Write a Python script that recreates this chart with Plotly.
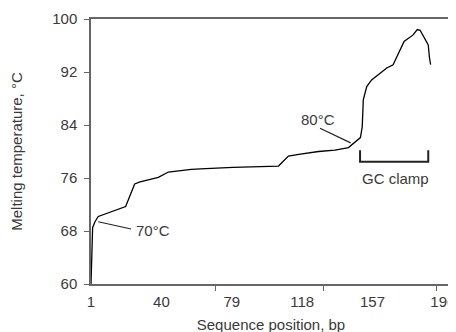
import plotly.graph_objects as go

# Melting temperature profile
position = [1, 1.7, 1.9, 3.2, 5.03, 20.2, 25.2, 28.2, 38.3, 43.9, 56.5, 64.5, 79.7, 104.9,
            110.4, 117, 127.1, 136.2, 143.7, 150.3, 151.3, 151.9, 153.8, 156.5, 164.9,
            168.4, 174.5, 179.5, 181.8, 183.4, 186.1, 187.9, 188.5, 189.2]
melting_temp = [60, 67.4, 68.5, 69.4, 70.2, 71.7, 75.1, 75.4, 76.1, 76.9, 77.3, 77.4, 77.6,
                77.8, 79.3, 79.6, 80.0, 80.2, 80.6, 82.1, 83.7, 87.8, 89.8, 90.8, 92.6,
                93.1, 96.6, 97.6, 98.4, 98.3, 97.1, 96.1, 94.3, 93.1]

x_tick_labels = [1, 40, 79, 118, 157, 196]
x_tick_marks = [70.1, 129.7, 192.6]
y_ticks = [60, 68, 76, 84, 92, 100]

# GC clamp bracket
bracket_x = [150.1, 150.1, 187.9, 187.9]
bracket_y = [80.2, 78.46, 78.46, 80.2]

# callouts
callout_70_x = [5.03, 23.2]
callout_70_y = [69.4, 68.3]
callout_80_x = [127.9, 144.9]
callout_80_y = [83.5, 81.3]

font_family = "Liberation Sans, Arial, sans-serif"
text_color = "#3a3a3a"
axis_color = "#666666"
FS = 15

fig = go.Figure()
fig.add_trace(go.Scatter(x=position, y=melting_temp, mode="lines",
                         line=dict(color="black", width=1.3), showlegend=False, hoverinfo="skip"))
fig.add_trace(go.Scatter(x=bracket_x, y=bracket_y, mode="lines",
                         line=dict(color="#222222", width=2), showlegend=False, hoverinfo="skip"))
fig.add_trace(go.Scatter(x=callout_70_x, y=callout_70_y, mode="lines",
                         line=dict(color="#222222", width=1.2), showlegend=False, hoverinfo="skip"))
fig.add_trace(go.Scatter(x=callout_80_x, y=callout_80_y, mode="lines",
                         line=dict(color="#222222", width=1.2), showlegend=False, hoverinfo="skip"))

fig.add_annotation(x=35.1, y=68.15, text="70°C", showarrow=False,
                   font=dict(size=FS, color=text_color, family=font_family))
fig.add_annotation(x=126.8, y=84.9, text="80°C", showarrow=False,
                   font=dict(size=FS, color=text_color, family=font_family))
fig.add_annotation(x=170.0, y=75.9, text="GC clamp", showarrow=False,
                   font=dict(size=FS, color=text_color, family=font_family))

fig.update_layout(
    width=456, height=332,
    margin=dict(l=83, r=13, t=11, b=56),
    paper_bgcolor="white", plot_bgcolor="white",
    font=dict(family=font_family, size=FS, color=text_color),
    xaxis=dict(
        range=[1, 200.5], automargin=False,
        tickmode="array", tickvals=x_tick_labels, ticktext=[str(v) for v in x_tick_labels],
        ticks="outside", ticklen=3, tickcolor="rgba(0,0,0,0)",
        minor=dict(tickmode="array", tickvals=x_tick_marks, ticks="outside",
                   ticklen=5, tickwidth=1.3, tickcolor=axis_color, showgrid=False),
        showline=True, linecolor=axis_color, linewidth=1.5, mirror=True,
        showgrid=False, zeroline=False,
        title=dict(text="Sequence position, bp", standoff=11,
                   font=dict(size=FS, color=text_color)),
    ),
    yaxis=dict(
        range=[60, 100], automargin=False,
        tickmode="array", tickvals=y_ticks,
        ticks="outside", ticklen=5, tickwidth=1.3, tickcolor=axis_color,
        ticklabelstandoff=4,
        showline=True, linecolor=axis_color, linewidth=1.5, mirror=True,
        showgrid=False, zeroline=False,
        title=dict(text="Melting temperature, °C", standoff=26,
                   font=dict(size=FS, color=text_color)),
    ),
)

fig.write_html("out.html")
